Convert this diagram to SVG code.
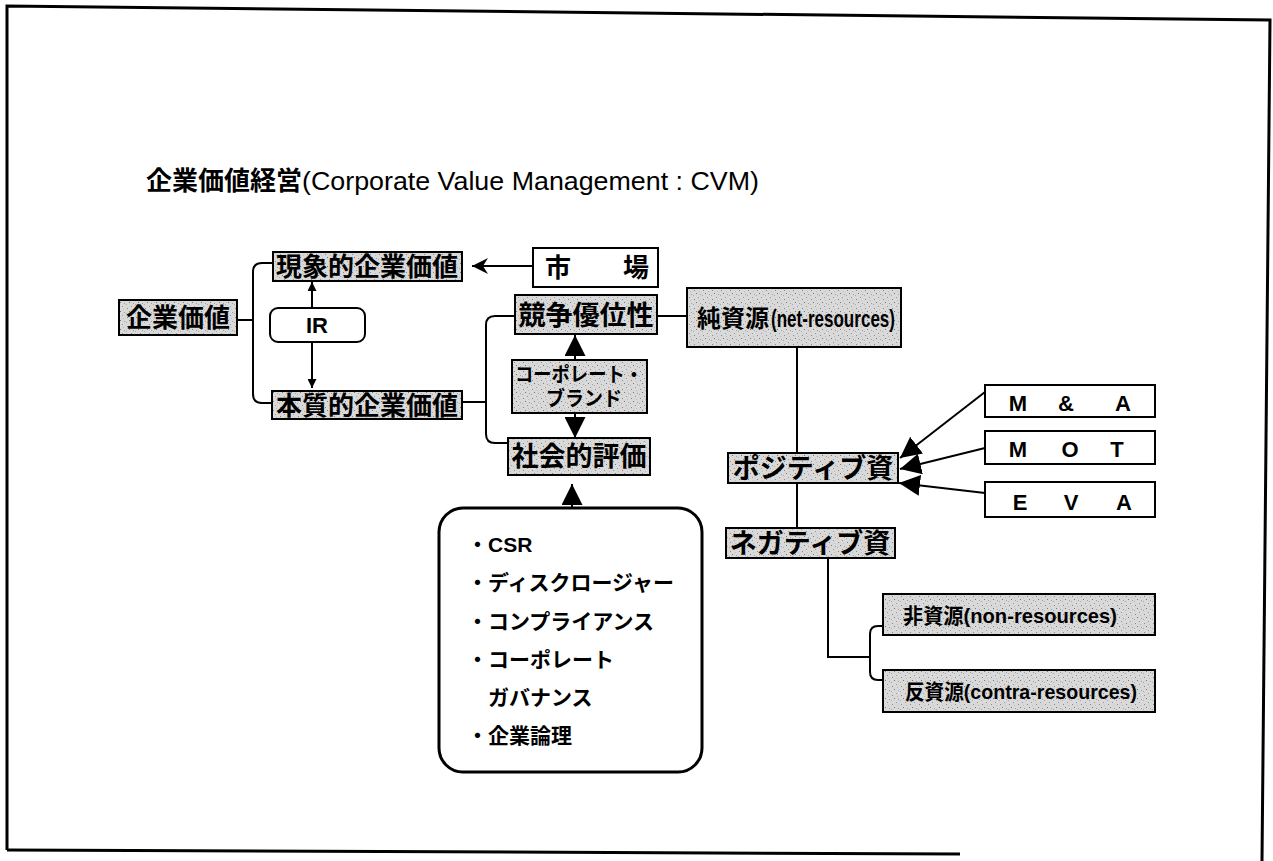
<svg xmlns="http://www.w3.org/2000/svg" width="1273" height="861" viewBox="0 0 1273 861">
<style>
.bx{fill:url(#stip);stroke:#000;stroke-width:2}
.wb{fill:#fff;stroke:#000;stroke-width:2}
.jp{font-family:"Noto Sans CJK JP","Liberation Sans",sans-serif;font-weight:700;fill:#000}
.mx{font-family:"Liberation Sans","Noto Sans CJK JP",sans-serif;font-weight:700;fill:#000}
.en{font-family:"Liberation Sans",sans-serif;fill:#000}
.ln{fill:none;stroke:#000;stroke-width:2}
.frame{fill:none;stroke:#000;stroke-width:3}
</style>
<defs>
<pattern id="stip" width="9" height="9" patternUnits="userSpaceOnUse">
<rect width="9" height="9" fill="#d9d9d9"/>
<rect x="1" y="2" width="1" height="1" fill="#888"/>
<rect x="5" y="0" width="1" height="1" fill="#999"/>
<rect x="3" y="5" width="1" height="1" fill="#777"/>
<rect x="7" y="6" width="1" height="1" fill="#a0a0a0"/>
<rect x="0" y="7" width="1" height="1" fill="#aaa"/>
<rect x="6" y="3" width="1" height="1" fill="#bbb"/>
</pattern>
<marker id="ahs" viewBox="0 0 10 10" refX="10" refY="5" markerWidth="9" markerHeight="9" markerUnits="userSpaceOnUse" orient="auto">
<path d="M0,0 L10,5 L0,10 z" fill="#000"/>
</marker>
<marker id="ahm" viewBox="0 0 16 16" refX="16" refY="8" markerWidth="16" markerHeight="16" markerUnits="userSpaceOnUse" orient="auto">
<path d="M0,0 L16,8 L0,16 L5,8 z" fill="#000"/>
</marker>
<marker id="ahl" viewBox="0 0 20 20" refX="20" refY="10" markerWidth="21" markerHeight="21" markerUnits="userSpaceOnUse" orient="auto">
<path d="M0,0 L20,10 L0,20 z" fill="#000"/>
</marker>
</defs>
<rect width="1273" height="861" fill="#fff"/>
<path class="frame" d="M7,850 V6 L1270,20 L1262,861"/>
<path class="frame" d="M7,850 L960,854"/>
<g id="title">
<text class="jp" x="146" y="190" font-size="26">企業価値経営</text>
<text class="en" x="302" y="190" font-size="26" textLength="457" lengthAdjust="spacingAndGlyphs">(Corporate Value Management : CVM)</text>
</g>
<g id="connectors">
<path class="ln" d="M237,320 H253"/>
<path class="ln" d="M273,263 H262 Q253,263 253,272 V394 Q253,403 262,403 H272"/>
<path class="ln" d="M312,308 V282" marker-end="url(#ahs)"/>
<path class="ln" d="M312,342 V388" marker-end="url(#ahs)"/>
<path class="ln" d="M533,266 H472" marker-end="url(#ahm)"/>
<path class="ln" d="M462,402 H486"/>
<path class="ln" d="M515,316 H495 Q486,316 486,325 V434 Q486,443 495,443 H508"/>
<path class="ln" d="M657,316 H687"/>
<path class="ln" d="M575,360 V335" marker-end="url(#ahl)"/>
<path class="ln" d="M575,413 V438" marker-end="url(#ahl)"/>
<path class="ln" d="M572,508 V484" marker-end="url(#ahl)"/>
<path class="ln" d="M797,347 V528"/>
<path class="ln" d="M985,392 L900,458" marker-end="url(#ahl)"/>
<path class="ln" d="M985,448 L900,469" marker-end="url(#ahl)"/>
<path class="ln" d="M985,493 L899,483" marker-end="url(#ahl)"/>
<path class="ln" d="M828,558 V657 H870"/>
<path class="ln" d="M883,626 H878 Q870,626 870,634 V672 Q870,680 878,680 H883"/>
</g>
<g id="n-kigyokachi">
<rect class="bx" x="119" y="300" width="118" height="35"/>
<text class="jp" x="178" y="327" font-size="26" text-anchor="middle">企業価値</text>
</g>
<g id="n-genshou">
<rect class="bx" x="273" y="252" width="189" height="29"/>
<text class="jp" x="367" y="276" font-size="26" text-anchor="middle">現象的企業価値</text>
</g>
<g id="n-ir">
<rect class="wb" x="270" y="308" width="95" height="34" rx="8"/>
<text class="mx" x="317" y="333" font-size="22" text-anchor="middle">IR</text>
</g>
<g id="n-honshitsu">
<rect class="bx" x="272" y="391" width="190" height="28"/>
<text class="jp" x="367" y="415" font-size="26" text-anchor="middle">本質的企業価値</text>
</g>
<g id="n-shijou">
<rect class="wb" x="533" y="248" width="125" height="39"/>
<text class="jp" x="545" y="277" font-size="26">市　　場</text>
</g>
<g id="n-kyousou">
<rect class="bx" x="515" y="295" width="142" height="39"/>
<text class="jp" x="586" y="325" font-size="27" text-anchor="middle">競争優位性</text>
</g>
<g id="n-brand">
<rect class="bx" x="512" y="360" width="135" height="53"/>
<text class="mx" x="579" y="382" font-size="20" text-anchor="middle" textLength="128" lengthAdjust="spacingAndGlyphs">コーポレート・</text>
<text class="mx" x="584" y="406" font-size="20" text-anchor="middle" textLength="76" lengthAdjust="spacingAndGlyphs">ブランド</text>
</g>
<g id="n-shakai">
<rect class="bx" x="508" y="438" width="142" height="37"/>
<text class="jp" x="579" y="466" font-size="27" text-anchor="middle">社会的評価</text>
</g>
<g id="n-list">
<rect x="439" y="508" width="263" height="264" rx="24" fill="#fff" stroke="#000" stroke-width="3"/>
<text class="mx" x="467" y="552" font-size="21">・CSR</text>
<text class="jp" x="467" y="590" font-size="21">・ディスクロージャー</text>
<text class="jp" x="467" y="629" font-size="21">・コンプライアンス</text>
<text class="jp" x="467" y="667" font-size="21">・コーポレート</text>
<text class="jp" x="488" y="705" font-size="21">ガバナンス</text>
<text class="jp" x="467" y="743" font-size="21">・企業論理</text>
</g>
<g id="n-junshigen">
<rect class="bx" x="687" y="288" width="214" height="59"/>
<text class="mx" font-size="24" y="327"><tspan x="697">純資源</tspan><tspan x="771" textLength="124" lengthAdjust="spacingAndGlyphs">(net-resources)</tspan></text>
</g>
<g id="n-positive">
<rect class="bx" x="728" y="453" width="170" height="30"/>
<text class="jp" x="813" y="478" font-size="27" text-anchor="middle">ポジティブ資</text>
</g>
<g id="n-negative">
<rect class="bx" x="726" y="528" width="169" height="30"/>
<text class="jp" x="810" y="553" font-size="27" text-anchor="middle">ネガティブ資</text>
</g>
<g id="n-ma">
<rect class="wb" x="985" y="385" width="170" height="32"/>
<text class="mx" font-size="22" text-anchor="middle" y="411"><tspan x="1018">M</tspan><tspan x="1066">&amp;</tspan><tspan x="1123">A</tspan></text>
</g>
<g id="n-mot">
<rect class="wb" x="985" y="431" width="170" height="33"/>
<text class="mx" font-size="22" text-anchor="middle" y="457"><tspan x="1018">M</tspan><tspan x="1070">O</tspan><tspan x="1117">T</tspan></text>
</g>
<g id="n-eva">
<rect class="wb" x="985" y="482" width="170" height="35"/>
<text class="mx" font-size="22" text-anchor="middle" y="510"><tspan x="1020">E</tspan><tspan x="1071">V</tspan><tspan x="1124">A</tspan></text>
</g>
<g id="n-hishigen">
<rect class="bx" x="883" y="594" width="272" height="41"/>
<text class="mx" x="903" y="623" font-size="21" textLength="214" lengthAdjust="spacingAndGlyphs">非資源(non-resources)</text>
</g>
<g id="n-hanshigen">
<rect class="bx" x="883" y="670" width="272" height="42"/>
<text class="mx" x="905" y="699" font-size="21" textLength="232" lengthAdjust="spacingAndGlyphs">反資源(contra-resources)</text>
</g>
</svg>
